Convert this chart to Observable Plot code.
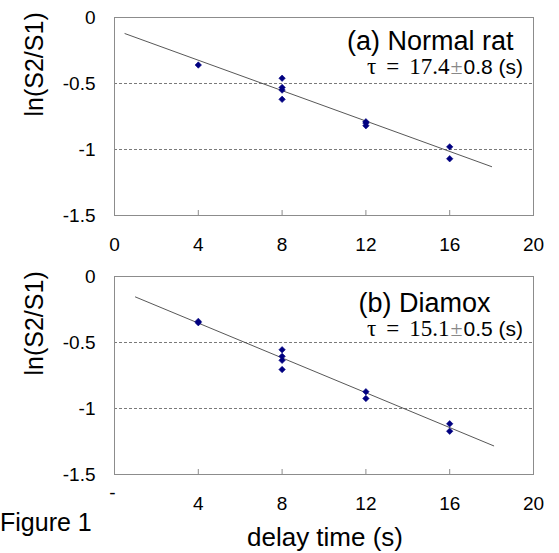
<!DOCTYPE html>
<html><head><meta charset="utf-8">
<script src="https://cdn.jsdelivr.net/npm/d3@7"></script>
<script src="https://cdn.jsdelivr.net/npm/@observablehq/plot@0.6"></script>
<style>
body{margin:0;background:#fff;}
#wrap{position:relative;width:559px;height:553px;overflow:hidden;font-family:Arial,"Liberation Sans",sans-serif;background:#fff;}
.abs{position:absolute;white-space:nowrap;color:#000;}
.panel{position:absolute;left:0;}
.tau{line-height:22px;text-align:right;}
.serif{font-family:"Liberation Serif","Times New Roman",serif;font-size:23px;}
.gap{display:inline-block;width:10px;}
.pm{font-family:"Liberation Serif","Times New Roman",serif;font-size:22px;color:#888;margin:0 1px;}
.sans{font-family:Arial,"Liberation Sans",sans-serif;font-size:21px;}
</style></head><body><div id="wrap"></div>
<script>
// ---- data ----
const xTicks = [0, 4, 8, 12, 16, 20];
const innerTicks = [4, 8, 12, 16];
const yTicks = [0, -0.5, -1, -1.5];
const gridY = [-0.5, -1];
const panelTitles = ["(a) Normal rat", "(b) Diamox"];
const tauValues = ["17.4", "15.1"];
const tauErrors = ["0.8", "0.5"];
const yLabel = "ln(S2/S1)";
const xLabel = "delay time (s)";
const figLabel = "Figure 1";

const normalX = [4, 8, 8, 8, 8, 12, 12, 12, 16, 16];
const normalY = [-0.36, -0.46, -0.53, -0.55, -0.62, -0.79, -0.80, -0.82, -0.98, -1.07];
const diamoxX = [4, 4, 8, 8, 8, 8, 12, 12, 16, 16];
const diamoxY = [-0.34, -0.35, -0.555, -0.605, -0.635, -0.705, -0.873, -0.924, -1.116, -1.172];
const fitNormalX = [0.5, 18];
const fitNormalY = [-0.122, -1.13];
const fitDiamoxX = [1.0, 18.1];
const fitDiamoxY = [-0.155, -1.283];

const wrap = document.getElementById("wrap");
const navy = "#000080";
const frameColor = "#8c8c8c";

function panel({px, py, fx, fy, title, titleDx, titleDy, bottomZero, marginTop, marginBottom}) {
  const pts = px.map((x, i) => ({x, y: py[i]}));
  const fit = fx.map((x, i) => ({x, y: fy[i]}));
  const marks = [
    Plot.ruleY(gridY, {stroke: "#7a7a7a", strokeDasharray: "3,2", strokeWidth: 1}),
    Plot.frame({stroke: frameColor}),
    Plot.ruleX(innerTicks, {x: d => d, insetTop: 193, stroke: frameColor}),
    Plot.axisY({ticks: yTicks, tickSize: 0, tickPadding: 19, tickFormat: d => String(d), fontSize: 19, label: null}),
    Plot.axisX({ticks: bottomZero ? xTicks.filter(d => d !== 0) : xTicks, tickSize: 0, tickPadding: 22, tickFormat: d => String(d), fontSize: 19, label: null}),
    Plot.line(fit, {x: "x", y: "y", stroke: "#444", strokeWidth: 0.9}),
    Plot.dot(pts, {x: "x", y: "y", symbol: "diamond2", r: 2.9, fill: navy, stroke: navy, strokeWidth: 0.6}),
    Plot.text([title], {frameAnchor: "top-right", textAnchor: "end", lineAnchor: "middle", dx: titleDx, dy: titleDy, fontSize: 27, fill: "#000"}),
    Plot.text([yLabel], {frameAnchor: "left", rotate: -90, dx: -80, fontSize: 25, fill: "#000"})
  ];
  if (bottomZero) {
    marks.push(Plot.text([0], {x: d => d, frameAnchor: "bottom", text: () => "-", dy: 24, dx: -2, fontSize: 19, fill: "#000"}));
  }
  return Plot.plot({
    width: 559, height: 258,
    marginLeft: 114, marginRight: 26, marginTop, marginBottom,
    x: {domain: [0, 20]},
    y: {domain: [-1.5, 0]},
    style: {fontFamily: "Arial, 'Liberation Sans', sans-serif", background: "transparent", color: "#000"},
    marks
  });
}

const p1 = panel({px: normalX, py: normalY, fx: fitNormalX, fy: fitNormalY, title: panelTitles[0], titleDx: -20, titleDy: 24, bottomZero: false, marginTop: 17, marginBottom: 43});
p1.classList.add("panel"); p1.style.top = "0px";
wrap.appendChild(p1);

const p2 = panel({px: diamoxX, py: diamoxY, fx: fitDiamoxX, fy: fitDiamoxY, title: panelTitles[1], titleDx: -43, titleDy: 27, bottomZero: true, marginTop: 18, marginBottom: 42});
p2.classList.add("panel"); p2.style.top = "258px";
wrap.appendChild(p2);

function tau(i, top) {
  const d = document.createElement("div");
  d.className = "abs tau";
  d.style.right = "36px";
  d.style.top = top + "px";
  d.innerHTML = `<span class="serif">τ<span class="gap"></span>=<span class="gap"></span>${tauValues[i]}</span><span class="pm">±</span><span class="sans">${tauErrors[i]} (s)</span>`;
  wrap.appendChild(d);
}
tau(0, 56);
tau(1, 318);

const xl = document.createElement("div");
xl.className = "abs";
xl.style.cssText += "left:175px;width:300px;text-align:center;top:524px;font-size:26px;line-height:26px;";
xl.textContent = xLabel;
wrap.appendChild(xl);

const fl = document.createElement("div");
fl.className = "abs";
fl.style.cssText += "left:0px;top:510px;font-size:25px;line-height:25px;";
fl.textContent = figLabel;
wrap.appendChild(fl);
</script></body></html>
